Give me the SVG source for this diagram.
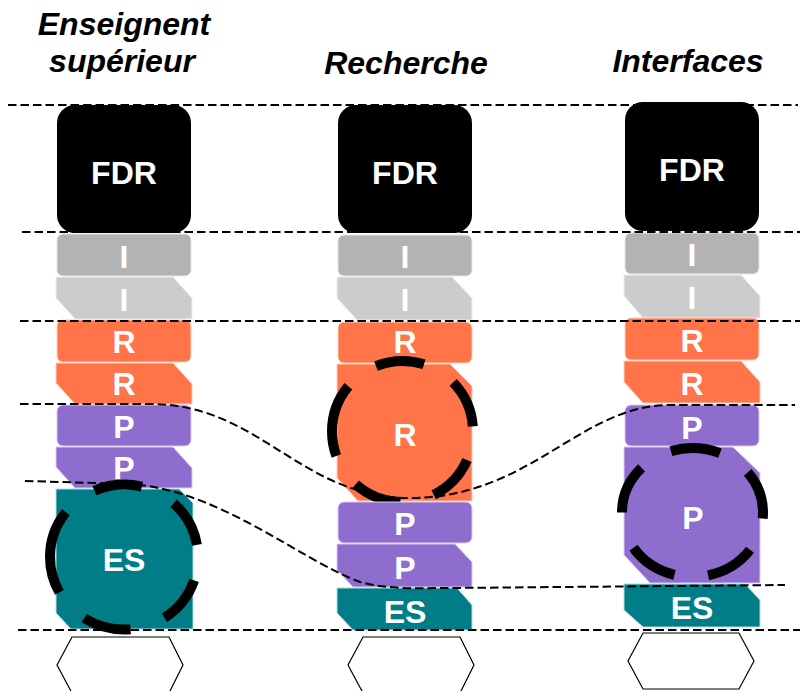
<svg xmlns="http://www.w3.org/2000/svg" width="800" height="691" viewBox="0 0 800 691">
<style>
.t{font-family:"Liberation Sans",Arial,sans-serif;font-weight:bold;font-size:32px;text-anchor:middle;fill:#fff}
.title{font-family:"Liberation Sans",Arial,sans-serif;font-weight:bold;font-style:italic;font-size:32px;text-anchor:middle;fill:#000}
.fdr{fill:#000}
.g1{fill:#b3b3b3;stroke:#e6e6e6;stroke-width:1}
.g2{fill:#cccccc;stroke:#eeeeee;stroke-width:1}
.or{fill:#ff7448;stroke:#ffd0c0;stroke-width:1}
.pu{fill:#8f6dcf;stroke:#d8ccf0;stroke-width:1}
.te{fill:#017d87;stroke:#b0dde0;stroke-width:1}
.ring{fill:none;stroke:#000;stroke-width:10}
.guide{fill:none;stroke:#000;stroke-width:2;stroke-dasharray:8.5 4}
.hex{fill:#fff;stroke:#000;stroke-width:1.2}
</style>

<g id="titles">
<text class="title" x="124" y="35">Enseignent</text>
<text class="title" x="122" y="72">supérieur</text>
<text class="title" x="406" y="74">Recherche</text>
<text class="title" x="688" y="72">Interfaces</text>
</g>

<!-- Column 1 -->
<g id="col1-fdr"><rect class="fdr" x="57" y="105" width="134" height="128" rx="18"/><text class="t" x="124" y="184">FDR</text></g>
<g id="col1-i1"><rect class="g1" x="57" y="234" width="134" height="42" rx="6"/><text class="t" x="124" y="268">I</text></g>
<g id="col1-i2"><path class="g2" d="M56,277 H173 L192,298 V319 H75 L56,298 Z"/><text class="t" x="124" y="311">I</text></g>
<g id="col1-r1"><rect class="or" x="57" y="320" width="134" height="42" rx="6"/><text class="t" x="124" y="353">R</text></g>
<g id="col1-r2"><path class="or" d="M56,363 H173 L192,384 V404 H75 L56,383 Z"/><text class="t" x="124" y="395">R</text></g>
<g id="col1-p1"><rect class="pu" x="57" y="405" width="134" height="41" rx="6"/><text class="t" x="124" y="438">P</text></g>
<g id="col1-p2"><path class="pu" d="M56,447 H173 L192,468 V488 H75 L56,467 Z"/><text class="t" x="124" y="479">P</text></g>
<g id="col1-es"><path class="te" d="M56,489 H179 L193,503 V629 H71 L56,613 Z"/><text class="t" x="124" y="571">ES</text>
<path class="ring" style="stroke-dasharray:48.5 36" d="M50,557 A74,72.5 0 1 1 198,557 A74,72.5 0 1 1 50,557"/></g>
<g id="col1-base"><path class="hex" d="M72,637 H169 L183,665 L169,693 H72 L57,665 Z"/></g>

<!-- Column 2 -->
<g id="col2-fdr"><rect class="fdr" x="338" y="105" width="134" height="128" rx="18"/><text class="t" x="405" y="184">FDR</text></g>
<g id="col2-i1"><rect class="g1" x="338" y="235" width="134" height="41" rx="6"/><text class="t" x="405" y="268">I</text></g>
<g id="col2-i2"><path class="g2" d="M337,277 H452 L472,298 V320 H357 L337,298 Z"/><text class="t" x="405" y="311">I</text></g>
<g id="col2-r1"><rect class="or" x="338" y="322" width="134" height="41" rx="6"/><text class="t" x="405" y="353">R</text></g>
<g id="col2-r2"><path class="or" d="M337,364 H450 L472,386 V501 H358 L337,478 Z"/><text class="t" x="405" y="446">R</text>
<path class="ring" style="stroke-dasharray:49 34.5" d="M332,431.5 A70.5,70.5 0 1 1 473,431.5 A70.5,70.5 0 1 1 332,431.5"/></g>
<g id="col2-p1"><rect class="pu" x="338" y="502" width="134" height="41" rx="6"/><text class="t" x="405" y="535">P</text></g>
<g id="col2-p2"><path class="pu" d="M337,544 H455 L472,562 V587 H353 L337,570 Z"/><text class="t" x="405" y="579">P</text></g>
<g id="col2-es"><path class="te" d="M337,588 H457 L472,605 V630 H353 L337,613 Z"/><text class="t" x="405" y="623">ES</text></g>
<g id="col2-base"><path class="hex" d="M363,637 H460 L474,665 L460,693 H363 L348,665 Z"/></g>

<!-- Column 3 -->
<g id="col3-fdr"><rect class="fdr" x="625" y="102" width="134" height="129" rx="18"/><text class="t" x="692" y="181">FDR</text></g>
<g id="col3-i1"><rect class="g1" x="625" y="233" width="134" height="41" rx="6"/><text class="t" x="692" y="266">I</text></g>
<g id="col3-i2"><path class="g2" d="M624,275 H741 L760,296 V318 H643 L624,296 Z"/><text class="t" x="692" y="309">I</text></g>
<g id="col3-r1"><rect class="or" x="625" y="318" width="134" height="42" rx="6"/><text class="t" x="692" y="352">R</text></g>
<g id="col3-r2"><path class="or" d="M624,361 H741 L760,382 V403 H643 L624,382 Z"/><text class="t" x="692" y="395">R</text></g>
<g id="col3-p1"><rect class="pu" x="625" y="405" width="134" height="41" rx="6"/><text class="t" x="692" y="439">P</text></g>
<g id="col3-p2"><path class="pu" d="M624,447 H733 L760,473 V583 H650 L624,555 Z"/><text class="t" x="693" y="529">P</text>
<path class="ring" style="stroke-dasharray:50 34 50 34 50 34 50 34 50 60" d="M622,512.5 A70.5,64.5 0 1 1 763,512.5 A70.5,64.5 0 1 1 622,512.5"/></g>
<g id="col3-es"><path class="te" d="M624,584 H745 L760,600 V627 H643 L624,610 Z"/><text class="t" x="692" y="619">ES</text></g>
<g id="col3-base"><path class="hex" d="M643,633 H739 L754,661 L739,689 H643 L628,661 Z"/></g>

<!-- Guide lines -->
<g id="connectors">
<path class="guide" d="M8,105 H798"/>
<path class="guide" d="M22,232 H800"/>
<path class="guide" d="M20,321 H800"/>
<path class="guide" d="M18,630 H800"/>
<path class="guide" d="M20,404 L150,404 C260,404 300,498 410,498 C530,498 580,405 670,405 L795,405"/>
<path class="guide" d="M25,481 L130,484 C220,490 300,560 360,582 C390,590 420,588 450,588 L785,585"/>
</g>
</svg>
